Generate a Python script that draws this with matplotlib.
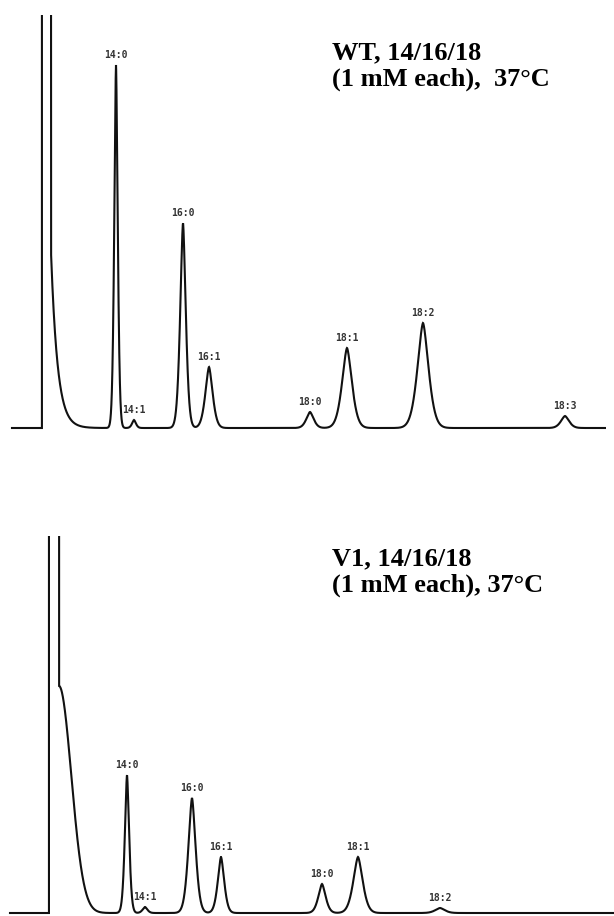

# GC traces of fatty acid methyl esters, WT and V1 grown on 14/16/18 mix

import numpy as np
import matplotlib.pyplot as plt

# ------------------------------------------------------------------------------------------------ #
# WT run: retention time (min), peak height and peak width (min)
wtNames   = ['14:0', '14:1', '16:0', '16:1', '18:0', '18:1', '18:2', '18:3']
wtTimes   = [5.80, 6.70, 9.15, 10.45, 15.50, 17.35, 21.15, 28.25]
wtHeights = [363, 8, 205, 61, 16, 80, 105, 12]
wtWidths  = [0.08, 0.09, 0.13, 0.17, 0.17, 0.23, 0.26, 0.19]
wtSolvent = [2.10, 2.55]      # solvent front on / off
wtTail    = [176, 0.325]      # solvent tail height, decay (min)
wtRange   = [0.60, 30.25]
wtTitle   = 'WT, 14/16/18\n(1 mM each),  37°C'

# V1 run
v1Names   = ['14:0', '14:1', '16:0', '16:1', '18:0', '18:1', '18:2']
v1Times   = [6.35, 7.25, 9.60, 11.05, 16.10, 17.90, 22.00]
v1Heights = [138, 6, 115, 56, 29, 56, 5]
v1Widths  = [0.10, 0.11, 0.17, 0.15, 0.17, 0.22, 0.22]
v1Solvent = [2.45, 2.95]
v1Tail    = [227, 0.615]
v1Range   = [0.50, 30.70]
v1Title   = 'V1, 14/16/18\n(1 mM each), 37°C'
# ------------------------------------------------------------------------------------------------ #


# ------------------------------------------------------------------------------------------------ #
def BuildTrace(tRange, solvent, tail, times, heights, widths, gaussTail=False):
	t = np.arange(tRange[0], tRange[1], 0.004)
	y = np.zeros_like(t)

	# solvent peak goes far off scale
	y[(t >= solvent[0]) & (t < solvent[1])] = 5000.0
	after = t >= solvent[1]
	dt = t[after] - solvent[1]
	if gaussTail:
		y[after] += tail[0]*np.exp(-0.5*(dt/tail[1])**2)
	else:
		y[after] += tail[0]*np.exp(-dt/tail[1])

	# recorder peaks come out a little pointed
	for rt, h, w in zip(times, heights, widths):
		y += h*np.exp(-0.5*np.abs((t - rt)/w)**1.6)

	return t, y
# ------------------------------------------------------------------------------------------------ #


# ------------------------------------------------------------------------------------------------ #
def DrawPanel(ax, t, y, names, times, heights, ylim):
	ax.plot(t, y, color='#111111', lw=1.5, solid_joinstyle='miter')
	for name, rt, h in zip(names, times, heights):
		ax.text(rt, h + 5, name, ha='center', va='bottom', fontsize=7,
			family='DejaVu Sans Mono', fontweight='bold', color='#333333')
	ax.set_xlim(0, 30.7)
	ax.set_ylim(ylim)
	ax.axis('off')
# ------------------------------------------------------------------------------------------------ #


W, H = 614, 916
fig = plt.figure(figsize=(W/100, H/100), dpi=100)

axTop = fig.add_axes([0, 1 - 440/H, 1, 425/H])
t, y = BuildTrace(wtRange, wtSolvent, wtTail, wtTimes, wtHeights, wtWidths)
DrawPanel(axTop, t, y, wtNames, wtTimes, wtHeights, (-12, 413))

axBot = fig.add_axes([0, 1 - 925/H, 1, 389/H])
t, y = BuildTrace(v1Range, v1Solvent, v1Tail, v1Times, v1Heights, v1Widths, gaussTail=True)
DrawPanel(axBot, t, y, v1Names, v1Times, v1Heights, (-12, 377))

titleFont = dict(family='Liberation Serif', fontweight='bold', fontsize=19,
	ha='left', va='baseline', linespacing=1.2)
fig.text(332/W, 1 - 86/H, wtTitle, **titleFont)
fig.text(332/W, 1 - 592/H, v1Title, **titleFont)

fig.savefig('out.png', dpi=100, facecolor='white')
